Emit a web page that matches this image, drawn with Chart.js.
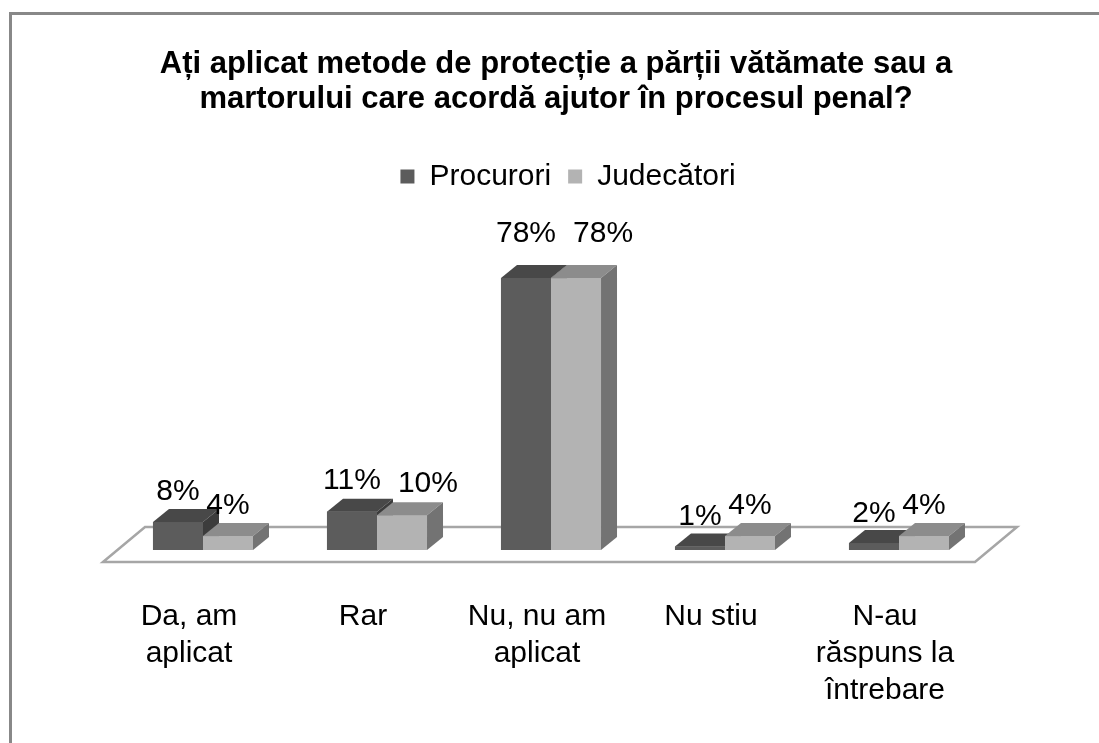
<!DOCTYPE html>
<html>
<head>
<meta charset="utf-8">
<script src="https://cdn.jsdelivr.net/npm/chart.js@4"></script>
<style>
  body { margin: 0; background: #fff; }
  #frame { position: absolute; left: 9px; top: 12px; right: 0; bottom: 0;
           border-left: 3px solid #888; border-top: 3px solid #888; }
  #wrap { position: absolute; left: 12px; top: 15px; width: 1087px; height: 728px; }
</style>
</head>
<body>
<div id="frame"></div>
<div id="wrap"><canvas id="myChart"></canvas></div>
<script>
const categories = [['Da, am', 'aplicat'], ['Rar'], ['Nu, nu am', 'aplicat'], ['Nu stiu'], ['N-au', 'răspuns la', 'întrebare']];
const procurori = [8, 11, 78, 1, 2];
const judecatori = [4, 10, 78, 4, 4];
const seriesNames = ['Procurori', 'Judecători'];
const titleLines = ['Ați aplicat metode de protecție a părții vătămate sau a', 'martorului care acordă ajutor în procesul penal?'];

const FONT = '"Liberation Sans", Arial, sans-serif';
// front, top, side shades for each series
const shades = [
  { front: '#5c5c5c', top: '#484848', side: '#3c3c3c' },
  { front: '#b3b3b3', top: '#8c8c8c', side: '#737373' }
];
const DX = 16, DY = 13;   // depth of a bar

// floor plane + 3d faces + value labels
const box3d = {
  id: 'box3d',
  afterLayout(chart) {
    // legend sits a bit right of the title in the original
    chart.legend.left += 12;
    chart.legend.right += 12;
  },
  beforeDatasetsDraw(chart) {
    const c = chart.ctx, a = chart.chartArea;
    const base = chart.scales.y.getPixelForValue(0);
    c.save();
    c.beginPath();
    c.moveTo(a.left - 13, base + 12);
    c.lineTo(a.left + 29, base - 23);
    c.lineTo(a.right + 31, base - 23);
    c.lineTo(a.right - 11, base + 12);
    c.closePath();
    c.fillStyle = '#fff';
    c.fill();
    c.lineWidth = 2.5;
    c.strokeStyle = '#a6a6a6';
    c.stroke();
    c.restore();
  },
  afterDatasetsDraw(chart) {
    const c = chart.ctx;
    c.save();
    chart.data.datasets.forEach((ds, di) => {
      const meta = chart.getDatasetMeta(di);
      const sh = shades[di];
      meta.data.forEach((bar) => {
        const x0 = bar.x - bar.width / 2, x1 = bar.x + bar.width / 2;
        const y = bar.y, b = bar.base;
        c.fillStyle = sh.front;
        c.fillRect(x0, y, x1 - x0, b - y);
        c.beginPath();
        c.moveTo(x0, y); c.lineTo(x0 + DX, y - DY); c.lineTo(x1 + DX, y - DY); c.lineTo(x1, y);
        c.closePath();
        c.fillStyle = sh.top; c.fill();
        c.beginPath();
        c.moveTo(x1, y); c.lineTo(x1 + DX, y - DY); c.lineTo(x1 + DX, b - DY); c.lineTo(x1, b);
        c.closePath();
        c.fillStyle = sh.side; c.fill();
      });
    });
    c.font = '30px ' + FONT;
    c.fillStyle = '#000';
    c.textAlign = 'center';
    c.textBaseline = 'alphabetic';
    const prev = [];
    chart.data.datasets.forEach((ds, di) => {
      chart.getDatasetMeta(di).data.forEach((bar, i) => {
        const v = ds.data[i];
        const txt = v + '%';
        const w = c.measureText(txt).width;
        let x = bar.x;
        const y = bar.y - DY - 8 - v * 0.19;
        const p = prev[i];
        // push a label right when it runs into its neighbour on the same line
        if (p && x - w / 2 < p.right && Math.abs(y - p.y) < 10) {
          x = p.right + 17 + w / 2;
        }
        c.fillText(txt, x, y);
        prev[i] = { right: x + w / 2, y: y };
      });
    });
    c.restore();
  }
};

const ctx = document.getElementById('myChart');

let graphdata = {
  type: 'bar',
  data: {
    labels: categories,
    datasets: [
      { label: seriesNames[0], data: procurori, backgroundColor: shades[0].front },
      { label: seriesNames[1], data: judecatori, backgroundColor: shades[1].front }
    ]
  },
  options: {
    responsive: true,
    maintainAspectRatio: false,
    animation: false,
    events: [],
    datasets: { bar: { barPercentage: 1, categoryPercentage: 0.575 } },
    layout: { padding: { left: 104, right: 103, top: 0, bottom: 43 } },
    scales: {
      x: {
        grid: { display: false, drawTicks: false },
        border: { display: false },
        ticks: { color: '#000', font: { family: FONT, size: 30, lineHeight: 1.23 }, padding: 48, labelOffset: -14, maxRotation: 0, autoSkip: false },
        afterFit(scale) { scale.height = 150; }
      },
      y: {
        position: 'right',
        min: 0, max: 100,
        ticks: { display: false },
        grid: { display: false, drawTicks: false },
        border: { display: false },
        afterFit(scale) { scale.width = 10; }
      }
    },
    plugins: {
      title: {
        display: true,
        text: titleLines,
        color: '#000',
        font: { family: FONT, size: 31, weight: 'bold', lineHeight: 1.16 },
        padding: { top: 31, bottom: 26.5 }
      },
      legend: {
        labels: { color: '#000', font: { family: FONT, size: 30 }, boxWidth: 14, boxHeight: 14, padding: 17 }
      },
      tooltip: { enabled: false }
    }
  },
  plugins: [box3d]
};

let mychart = new Chart(ctx, graphdata);
</script>
</body>
</html>
